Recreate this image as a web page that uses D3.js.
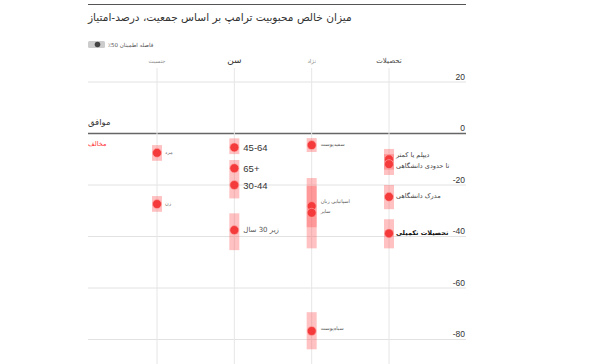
<!DOCTYPE html>
<html><head><meta charset="utf-8">
<script src="https://cdn.jsdelivr.net/npm/d3@7"></script>
<style>body{margin:0;background:#fff;font-family:"DejaVu Sans",sans-serif}</style>
</head><body><svg id="c" width="600" height="364"></svg>
<script>
const title = "میزان خالص محبوبیت ترامپ بر اساس جمعیت، درصد-امتیاز";
const legendLabel = "فاصله اطمینان 50٪";
const groups = ["جنسیت", "سن", "نژاد", "تحصیلات"];
const yTicks = [20, 0, -20, -40, -60, -80];
const agreeLabel = "موافق";
const disagreeLabel = "مخالف";
const pointGroup = ["جنسیت","جنسیت","سن","سن","سن","سن","نژاد","نژاد","نژاد","نژاد","تحصیلات","تحصیلات","تحصیلات","تحصیلات"];
const pointLabel = ["مرد","زن","45-64","65+","30-44","زیر 30 سال","سفیدپوست","اسپانیایی زبان","سایر","سیاه‌پوست","دیپلم یا کمتر","تا حدودی دانشگاهی","مدرک دانشگاهی","تحصیلات تکمیلی"];
const pointValue = [-7.5, -27.4, -5.4, -13.5, -20, -37.5, -4.5, -28.2, -30.8, -76.7, -10, -11.9, -24.6, -38.8];
const pointLow  = [-10.6, -30.4, -8.0, -16.8, -25.2, -45.3, -7.2, -44.6, -36.4, -83.8, -14, -16.1, -29.4, -44.6];
const pointHigh = [-4.5, -24.3, -1.9, -10.3, -16.8, -31, -1.8, -17.3, -20.4, -69.4, -6, -8, -20, -33.3];

const svg = d3.select("#c");
const L = 88, R = 466;
const y = d3.scaleLinear().domain([20, -80]).range([82, 339.5]);
const x = d3.scalePoint().domain(groups).range([157, 389]);

svg.append("line").attr("x1",L).attr("x2",R).attr("y1",4.5).attr("y2",4.5).attr("stroke","#555").attr("stroke-width",1);
svg.append("text").attr("x",L).attr("y",21).attr("font-size",10.6).attr("fill","#333")
  .attr("direction","rtl").attr("text-anchor","end").text(title);

// legend
svg.append("rect").attr("x",L).attr("y",41).attr("width",17).attr("height",7).attr("rx",1.5).attr("fill","#ccc");
svg.append("circle").attr("cx",L+9.5).attr("cy",44.5).attr("r",2.8).attr("fill","#444");
svg.append("text").attr("x",L+20).attr("y",47).attr("font-size",5.5).attr("fill","#555")
  .attr("direction","rtl").attr("text-anchor","end").text(legendLabel);

// grid
yTicks.forEach(t => {
  svg.append("line").attr("x1",L).attr("x2",R).attr("y1",y(t)).attr("y2",y(t))
    .attr("stroke", t===0 ? "#666" : "#e2e2e2").attr("stroke-width", t===0 ? 1.3 : 1);
  svg.append("text").attr("x",R-1).attr("y",y(t)-2.5).attr("text-anchor","end")
    .attr("font-size",8.5).attr("fill","#333").attr("font-family","Liberation Sans, Arial").text(t);
});
groups.forEach(g => {
  svg.append("line").attr("x1",x(g)).attr("x2",x(g)).attr("y1",68).attr("y2",364).attr("stroke","#e6e6e6").attr("stroke-width",1);
});
const headStyle = {"جنسیت":[5.5,"#888"], "سن":[9,"#333"], "نژاد":[5.5,"#888"], "تحصیلات":[7,"#444"]};
groups.forEach(g => {
  svg.append("text").attr("x",x(g)).attr("y",63).attr("text-anchor","middle")
    .attr("font-size",headStyle[g][0]).attr("fill",headStyle[g][1]).text(g);
});
svg.append("text").attr("x",L).attr("y",125).attr("font-size",8.5).attr("fill","#333")
  .attr("direction","rtl").attr("text-anchor","end").text(agreeLabel);
svg.append("text").attr("x",L).attr("y",146).attr("font-size",6.5).attr("fill","#f33")
  .attr("direction","rtl").attr("text-anchor","end").text(disagreeLabel);

const data = pointLabel.map((l,i)=>({g:pointGroup[i], l, v:pointValue[i], lo:pointLow[i], hi:pointHigh[i]}));
svg.append("g").selectAll("rect").data(data).join("rect")
  .attr("x",d=>x(d.g)-5).attr("width",10)
  .attr("y",d=>y(d.hi)).attr("height",d=>y(d.lo)-y(d.hi))
  .attr("fill","#ff4d4d").attr("fill-opacity",0.35);
svg.append("g").selectAll("circle").data(data).join("circle")
  .attr("cx",d=>x(d.g)).attr("cy",d=>y(d.v)).attr("r",4.5)
  .attr("fill","#f43a3a").attr("stroke","#ffb0b0").attr("stroke-width",0.6);

const isNum = l => /^[0-9+-]+$/.test(l);
const lblStyle = {"جنسیت":[5,"#666",8,1], "سن":[9.5,"#333",9,3.5], "نژاد":[5,"#555",9,1], "تحصیلات":[6.5,"#444",7,2]};
const dyAdj = {"زیر 30 سال":-1.5, "اسپانیایی زبان":-4, "سایر":-1, "دیپلم یا کمتر":-4, "تا حدودی دانشگاهی":1.5, "مدرک دانشگاهی":-0.5, "سیاه‌پوست":-2};
svg.append("g").selectAll("text").data(data).join("text")
  .attr("x",d=>x(d.g)+lblStyle[d.g][2])
  .attr("y",d=>y(d.v)+lblStyle[d.g][3]+(dyAdj[d.l]||0))
  .attr("font-size",d=>d.l==="زیر 30 سال" ? 7 : lblStyle[d.g][0])
  .attr("fill",d=>d.l==="تحصیلات تکمیلی" ? "#111" : (d.l==="زیر 30 سال" ? "#555" : lblStyle[d.g][1]))
  .attr("font-weight",d=>d.l==="تحصیلات تکمیلی" ? "bold" : "normal")
  .attr("direction",d=>isNum(d.l) ? "ltr" : "rtl")
  .style("unicode-bidi",d=>isNum(d.l) ? "bidi-override" : null)
  .attr("text-anchor",d=>isNum(d.l) ? "start" : "end")
  .attr("font-family",d=>isNum(d.l) ? "Liberation Sans, Arial" : null)
  .text(d=>d.l);
</script></body></html>
